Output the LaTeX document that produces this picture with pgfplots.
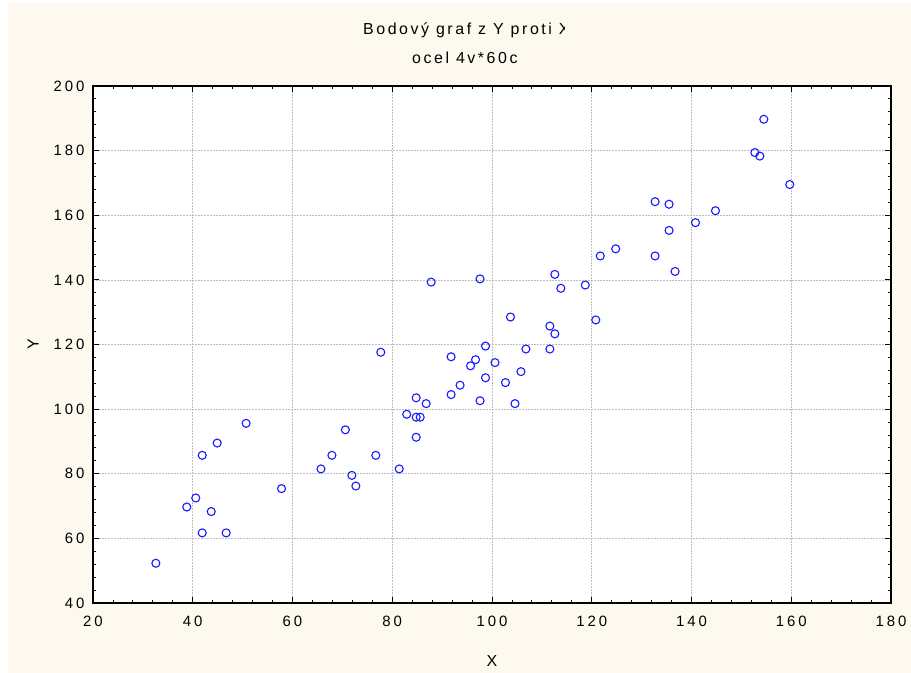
\documentclass[border=0pt]{standalone}
\usepackage{fontspec}
\setmainfont{Liberation Sans}
\newfontfamily\lsp[LetterSpace=20]{Liberation Sans}
\newfontfamily\lspt[LetterSpace=16]{Liberation Sans}
\usepackage{pgfplots}
\pgfplotsset{compat=1.18}
\definecolor{cream}{RGB}{253,249,238}
\definecolor{mblue}{RGB}{25,25,255}
\definecolor{gridgray}{RGB}{190,190,190}
\begin{document}
\begin{tikzpicture}[x=1bp,y=1bp]
\path[fill=white] (0,0) rectangle (911,673);
\fill[cream] (8,0) rectangle (911,670);
\begin{axis}[
  at={(93bp,70bp)}, anchor=south west,
  scale only axis, width=798bp, height=517bp,
  xmin=20, xmax=180, ymin=40, ymax=200,
  xtick={20,40,...,180}, ytick={40,60,...,200},
  minor tick num=4, tick align=inside,
  major tick length=6bp, minor tick length=3bp,
  every tick/.style={black, line width=0.9bp},
  axis line style={line width=1.6bp},
  axis background/.style={fill=white},
  grid=major,
  major grid style={gridgray, dash pattern=on 1.5bp off 1.5bp, line width=0.7bp},
  /pgf/number format/assume math mode=true,
  tick label style={font=\lsp\fontsize{15}{17}\selectfont},
  xticklabel style={yshift=-10bp},
  yticklabel style={xshift=-5bp},
  xlabel={X}, ylabel={Y},
  label style={font=\lsp\fontsize{16}{18}\selectfont},
  xlabel style={at={(axis description cs:0.5,-0.112)}, anchor=center},
  ylabel style={at={(axis description cs:-0.075,0.5)}, anchor=center},
]
\addplot[only marks, mark=o, mark size=4bp, mark options={draw=mblue, line width=1.1bp}] table {
x y
32.6 52.3
38.8 69.7
40.6 72.5
41.9 85.7
41.9 61.7
43.7 68.3
44.9 89.5
46.7 61.7
50.7 95.6
57.8 75.4
65.7 81.5
67.9 85.7
70.6 93.6
71.9 79.5
72.7 76.2
76.7 85.7
81.4 81.5
77.7 117.6
87.8 139.3
97.6 140.3
112.6 141.7
113.8 137.4
118.7 138.4
121.7 147.4
124.8 149.6
132.7 147.4
136.7 142.6
103.7 128.5
111.6 125.7
112.6 123.3
120.8 127.6
98.7 119.5
106.8 118.6
111.6 118.6
91.8 116.2
96.7 115.3
95.7 113.4
100.6 114.4
105.8 111.6
98.7 109.7
102.7 108.2
93.6 107.4
91.8 104.5
97.6 102.6
104.6 101.7
84.8 103.5
86.8 101.7
82.9 98.4
84.8 97.5
85.6 97.5
84.8 91.3
132.7 164.2
135.5 163.4
135.5 155.3
140.8 157.7
144.8 161.4
152.7 179.4
153.7 178.3
154.5 189.7
159.7 169.5
};
\end{axis}
\begin{scope}
\clip (0,625) rectangle (564,673);
\node[font=\lspt\fontsize{16}{18}\selectfont, anchor=base west, inner sep=0pt] at (363,638) {Bodový graf z Y proti X};
\end{scope}
\begin{scope}
\clip (0,595) rectangle (516,625);
\node[font=\lspt\fontsize{16}{18}\selectfont, anchor=base west, inner sep=0pt] at (412,609) {ocel 4v*60c};
\end{scope}
\end{tikzpicture}
\end{document}
